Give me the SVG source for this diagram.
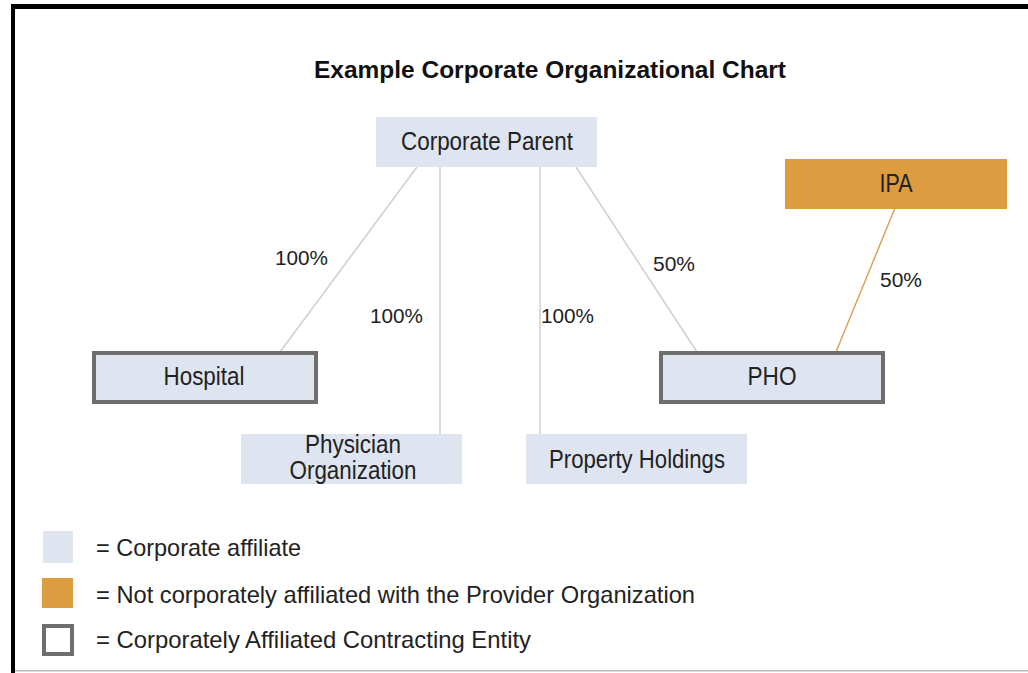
<svg xmlns="http://www.w3.org/2000/svg" width="1028" height="673" viewBox="0 0 1028 673">
<style>
text{font-family:"Liberation Sans",Arial,sans-serif;fill:#222;}
.t{font-size:25px;text-anchor:middle;}
.lbl{font-size:21px;text-anchor:middle;}
.leg{font-size:24px;}
.aff{fill:#dee5f0;}
.ext{fill:#dd9c3f;}
.ent{fill:#dee5f0;stroke:#6e6e6e;stroke-width:4;}
.c{stroke:#cfcfcf;stroke-width:1.5;fill:none;}
.co{stroke:#d6a55a;stroke-width:1.5;fill:none;}
</style>
<rect x="0" y="0" width="1028" height="673" fill="#fff"/>
<rect x="11" y="4" width="1017" height="5" fill="#000"/>
<rect x="11" y="4" width="4" height="669" fill="#000"/>
<rect x="15" y="670" width="1013" height="1.5" fill="#bbb"/>
<text x="550" y="78" textLength="472" lengthAdjust="spacingAndGlyphs" style="font-size:23px;font-weight:bold;text-anchor:middle;fill:#111">Example Corporate Organizational Chart</text>
<g id="connectors">
<line class="c" x1="417" y1="167" x2="280" y2="352"/>
<line class="c" x1="440" y1="167" x2="440" y2="434"/>
<line class="c" x1="540" y1="167" x2="540" y2="434"/>
<line class="c" x1="576" y1="167" x2="697" y2="352"/>
<line class="co" x1="895" y1="208" x2="836" y2="352"/>
<text class="lbl" x="301.5" y="265" textLength="53" lengthAdjust="spacingAndGlyphs">100%</text>
<text class="lbl" x="396.5" y="323" textLength="53" lengthAdjust="spacingAndGlyphs">100%</text>
<text class="lbl" x="567.5" y="323" textLength="53" lengthAdjust="spacingAndGlyphs">100%</text>
<text class="lbl" x="674" y="271" textLength="42" lengthAdjust="spacingAndGlyphs">50%</text>
<text class="lbl" x="901" y="287" textLength="42" lengthAdjust="spacingAndGlyphs">50%</text>
</g>
<g id="corporate-parent">
<rect class="aff" x="376" y="117" width="221" height="50"/>
<text class="t" x="487" y="150" textLength="172" lengthAdjust="spacingAndGlyphs">Corporate Parent</text>
</g>
<g id="ipa">
<rect class="ext" x="785" y="159" width="222" height="50"/>
<text class="t" x="896" y="192" textLength="33" lengthAdjust="spacingAndGlyphs">IPA</text>
</g>
<g id="hospital">
<rect class="ent" x="94" y="353" width="222" height="49"/>
<text class="t" x="204" y="385" textLength="81" lengthAdjust="spacingAndGlyphs">Hospital</text>
</g>
<g id="pho">
<rect class="ent" x="661" y="353" width="222" height="49"/>
<text class="t" x="772" y="385" textLength="49" lengthAdjust="spacingAndGlyphs">PHO</text>
</g>
<g id="physician-organization">
<rect class="aff" x="241" y="434" width="221" height="50"/>
<text class="t" x="353" y="453" textLength="96" lengthAdjust="spacingAndGlyphs">Physician</text>
<text class="t" x="353" y="479" textLength="127" lengthAdjust="spacingAndGlyphs">Organization</text>
</g>
<g id="property-holdings">
<rect class="aff" x="526" y="434" width="221" height="50"/>
<text class="t" x="637" y="468" textLength="176" lengthAdjust="spacingAndGlyphs">Property Holdings</text>
</g>
<g id="legend">
<rect class="aff" x="43" y="531" width="30" height="32"/>
<text class="leg" x="96" y="556" textLength="205" lengthAdjust="spacingAndGlyphs">= Corporate affiliate</text>
<rect class="ext" x="42" y="578" width="31" height="30"/>
<text class="leg" x="96" y="603" textLength="599" lengthAdjust="spacingAndGlyphs">= Not corporately affiliated with the Provider Organization</text>
<rect x="44" y="626" width="28" height="28" fill="#fff" stroke="#6e6e6e" stroke-width="4"/>
<text class="leg" x="96" y="648" textLength="435" lengthAdjust="spacingAndGlyphs">= Corporately Affiliated  Contracting Entity</text>
</g>
</svg>
